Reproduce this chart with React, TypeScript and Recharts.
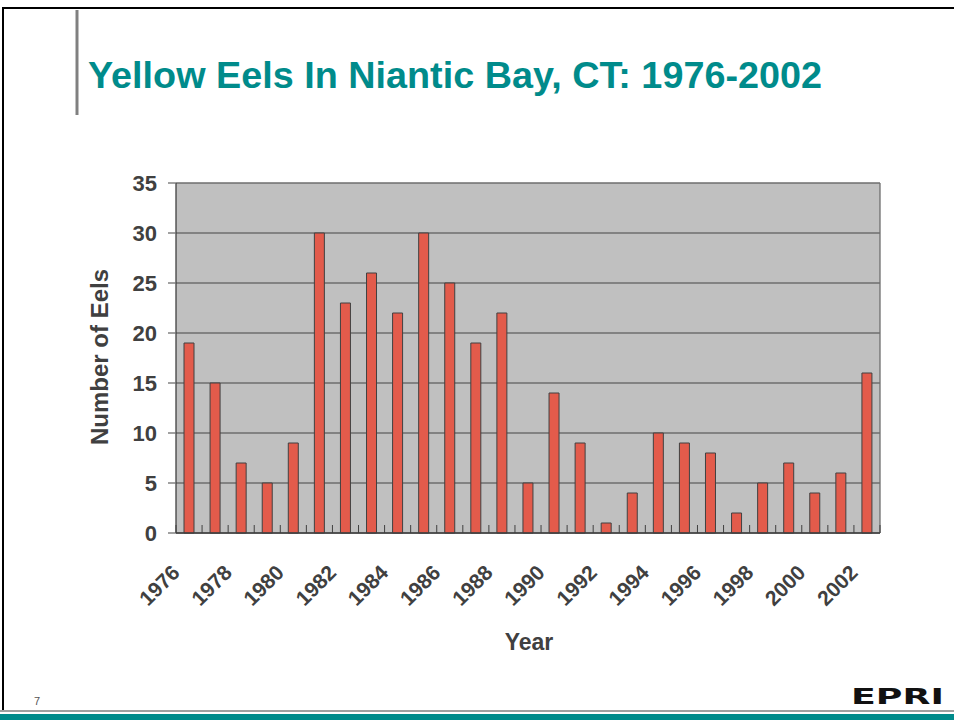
import React from 'react';
import { BarChart, Bar, XAxis, YAxis, CartesianGrid } from 'recharts';

const years: string[] = [
  '1976', '1977', '1978', '1979', '1980', '1981', '1982', '1983', '1984',
  '1985', '1986', '1987', '1988', '1989', '1990', '1991', '1992', '1993',
  '1994', '1995', '1996', '1997', '1998', '1999', '2000', '2001', '2002',
];
const eels: number[] = [
  19, 15, 7, 5, 9, 30, 23, 26, 22, 30, 25, 19, 22, 5, 14, 9, 1, 4, 10, 9, 8, 2, 5, 7, 4, 6, 16,
];
const yTicks: number[] = [0, 5, 10, 15, 20, 25, 30, 35];

const data = years.map((year, i) => ({ year, eels: eels[i] }));

const FONT = "'Liberation Sans', Arial, Helvetica, sans-serif";
const W = 954;
const H = 720;
const M = { top: 183, right: 74, bottom: 87, left: 0 };
const Y_AXIS_W = 176;
const X_AXIS_H = 100;
const PLOT_W = W - M.left - M.right - Y_AXIS_W;
const BW = PLOT_W / years.length;

const XTick = (props: any) => {
  const { x, y, index, payload } = props;
  const left = x - BW / 2;
  const right = x + BW / 2;
  const tx = x - 8;
  const ty = y + 41;
  return (
    <g>
      <line x1={left} x2={left} y1={y} y2={y - 8} stroke="#404040" strokeWidth={1} />
      {index === years.length - 1 && (
        <line x1={right} x2={right} y1={y} y2={y - 8} stroke="#404040" strokeWidth={1} />
      )}
      {index % 2 === 0 && (
        <text
          x={tx}
          y={ty}
          transform={`rotate(-45, ${tx}, ${ty})`}
          textAnchor="end"
          fill="#404040"
          fontSize={21}
          fontWeight="bold"
          fontFamily={FONT}
        >
          {payload.value}
        </text>
      )}
    </g>
  );
};

export default function App() {
  return (
    <div style={{ position: 'absolute', left: 0, top: 0, width: W, height: H, background: '#fff', overflow: 'hidden' }}>
      <div style={{ position: 'absolute', left: 0, top: 0 }}>
        <BarChart width={W} height={H} data={data} margin={M}>
          <CartesianGrid
            fill="#C0C0C0"
            fillOpacity={1}
            stroke="#6e6e6e"
            strokeWidth={1.3}
            horizontal={true}
            vertical={true}
            verticalCoordinatesGenerator={({ offset }: any) => [offset.left + offset.width]}
          />
          <XAxis
            dataKey="year"
            interval={0}
            height={X_AXIS_H}
            tickLine={false}
            tickSize={0}
            tickMargin={0}
            axisLine={{ stroke: '#404040', strokeWidth: 1.3 }}
            tick={<XTick />}
          />
          <YAxis
            width={Y_AXIS_W}
            domain={[0, 35]}
            ticks={yTicks}
            interval={0}
            tickSize={8}
            tickMargin={11}
            tickLine={{ stroke: '#6e6e6e', strokeWidth: 1.3 }}
            axisLine={{ stroke: '#404040', strokeWidth: 1.3 }}
            tick={{ fill: '#404040', fontSize: 22, fontWeight: 'bold', fontFamily: FONT }}
          />
          <Bar dataKey="eels" fill="#E35B4B" stroke="#404040" strokeWidth={1} barSize={10} isAnimationActive={false} />
        </BarChart>
      </div>
      <svg width={W} height={H} style={{ position: 'absolute', left: 0, top: 0, pointerEvents: 'none' }}>
        <line x1={3} x2={W} y1={8} y2={8} stroke="#000" strokeWidth={2} />
        <line x1={3} x2={3} y1={7} y2={712} stroke="#000" strokeWidth={2} />
        <line x1={77} x2={77} y1={10} y2={115} stroke="#808080" strokeWidth={3} />
        <text x={88} y={88} fill="#008B8B" fontSize={37} fontWeight="bold" fontFamily={FONT} textLength={734} lengthAdjust="spacingAndGlyphs">
          Yellow Eels In Niantic Bay, CT: 1976-2002
        </text>
        <text
          x={108}
          y={357}
          transform="rotate(-90, 108, 357)"
          textAnchor="middle"
          fill="#404040"
          fontSize={24}
          fontWeight="bold"
          fontFamily={FONT}
        >
          Number of Eels
        </text>
        <text x={529} y={650} textAnchor="middle" fill="#404040" fontSize={23} fontWeight="bold" fontFamily={FONT}>
          Year
        </text>
        <text x={34} y={705} fill="#555" fontSize={11} fontFamily={FONT}>7</text>
        <text x={851} y={704} fill="#111" fontSize={21} fontWeight="bold" fontFamily="'DejaVu Sans', sans-serif" textLength={93} lengthAdjust="spacingAndGlyphs">
          EPRI
        </text>
        <line x1={0} x2={W} y1={711} y2={711} stroke="#a0a0a0" strokeWidth={2} />
        <rect x={0} y={714} width={W} height={6} fill="#008B8B" />
      </svg>
    </div>
  );
}
